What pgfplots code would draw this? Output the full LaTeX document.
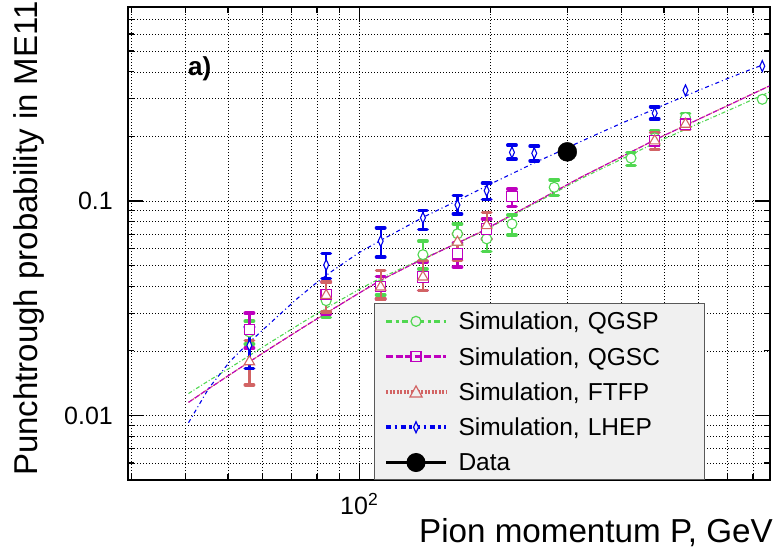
\documentclass[border=0pt]{standalone}
\usepackage{pgfplots}
\pgfplotsset{compat=1.18}
\usepackage{fontspec}
\setmainfont{Liberation Sans}
\definecolor{cqgsp}{RGB}{80,215,80}
\definecolor{cqgsc}{RGB}{190,0,190}
\definecolor{cftfp}{RGB}{210,100,100}
\definecolor{clhep}{RGB}{0,0,235}
\definecolor{legfill}{RGB}{240,240,240}
\pgfplotsset{
  errs/.style={/pgfplots/error bars/.cd, y dir=both, y explicit,
    error bar style={line width=2.2pt, solid},
    error mark options={rotate=90, line width=3.5pt, mark size=4.2pt, line cap=round, solid}, /pgfplots/.cd},
}
\begin{document}
\begin{tikzpicture}
\useasboundingbox (0,0) rectangle (777pt,550pt);
\begin{axis}[
  at={(128pt,70pt)}, anchor=south west,
  scale only axis, width=642pt, height=472.7pt,
  xmode=log, ymode=log,
  xmin=29.5, xmax=875, ymin=0.005, ymax=0.8,
  xtick={100}, xticklabels={10\textsuperscript{2}},
  minor xtick={30,40,50,60,70,80,90,200,300,400,500,600,700,800},
  ytick={0.01,0.1}, yticklabels={0.01,0.1},
  minor ytick={0.005,0.006,0.007,0.008,0.009,0.02,0.03,0.04,0.05,0.06,0.07,0.08,0.09,0.2,0.3,0.4,0.5,0.6,0.7,0.8},
  grid=both,
  major grid style={black, line width=0.7pt, dash pattern=on 1.2pt off 1.8pt},
  minor grid style={black, line width=0.7pt, dash pattern=on 1.2pt off 1.8pt},
  tick align=inside,
  major tick length=15pt, minor tick length=6pt,
  every tick/.style={black, line width=1.2pt},
  axis line style={line width=1.8pt},
  /pgf/number format/assume math mode=true,
  tick label style={font=\fontsize{25}{30}\selectfont},
  xticklabel style={inner sep=0pt, yshift=-13pt},
  yticklabel style={inner sep=0pt, xshift=-15pt},
  xlabel={Pion momentum P, GeV},
  ylabel={Punchtrough probability in ME11},
  xlabel style={font=\fontsize{33.2}{40}\selectfont, at={(axis description cs:1.0047,-0.1326)}, anchor=base east, inner sep=0pt},
  ylabel style={font=\fontsize{33}{40}\selectfont, at={(axis description cs:-0.141,0.0085)}, anchor=base west, inner sep=0pt},
  legend style={
    at={(axis description cs:0.3832,0)}, anchor=south west,
    fill=legfill, draw=black!65, line width=1pt,
    inner sep=0pt, row sep=0pt, column sep=0pt,
    font=\fontsize{24.5}{29}\selectfont,
    nodes={inner xsep=0pt, inner ysep=0pt, text height=26.7pt, text depth=8.6pt, text width=246pt, align=left, anchor=base west},
  },
]
% ---- fit curves ----
\addplot[cqgsp, line width=1.1pt, dash pattern=on 4pt off 2pt on 1pt off 2pt, forget plot] coordinates {
(40.6,0.01265) (45,0.01445) (50,0.01644) (56.3,0.01916) (63,0.02212) (74,0.0271) (84.4,0.03184)
(100,0.03872) (111.7,0.04362) (130.8,0.0506) (160,0.0608) (189.3,0.0711) (250,0.0963)
(320.5,0.1263) (400,0.157) (479.6,0.1875) (600,0.2297) (720,0.2704) (872,0.322)};
\addplot[cftfp, line width=1.2pt, dash pattern=on 1.5pt off 1pt, forget plot] coordinates {
(40.6,0.01151) (45,0.01326) (50,0.01529) (56.3,0.01791) (63,0.02077) (74,0.02557) (84.4,0.03018)
(100,0.03723) (111.7,0.04256) (130.8,0.0501) (160,0.0608) (189.3,0.0715) (250,0.0973)
(320.5,0.1282) (400,0.161) (479.6,0.1941) (600,0.2405) (720,0.2861) (872,0.3438)};
\addplot[cqgsc, line width=1.1pt, dash pattern=on 5pt off 2.5pt, forget plot] coordinates {
(40.6,0.01151) (45,0.01326) (50,0.01529) (56.3,0.01791) (63,0.02077) (74,0.02557) (84.4,0.03018)
(100,0.03723) (111.7,0.04256) (130.8,0.0501) (160,0.0608) (189.3,0.0715) (250,0.0973)
(320.5,0.1282) (400,0.161) (479.6,0.1941) (600,0.2405) (720,0.2861) (872,0.3438)};
\addplot[clhep, line width=1.1pt, dash pattern=on 4pt off 3pt on 1pt off 3pt, forget plot] coordinates {
(40.6,0.00925) (45.2,0.0134) (50.7,0.0180) (55,0.0212) (60.3,0.0252) (66,0.0298) (72,0.0350)
(79.4,0.0412) (86,0.0466) (93,0.0520) (100,0.0575) (112,0.0655) (126,0.0746) (141,0.0845)
(158.5,0.0948) (178,0.1065) (199.5,0.1197) (224,0.134) (251,0.150) (282,0.167) (316,0.186)
(355,0.207) (398,0.2296) (447,0.254) (501,0.281) (562,0.310) (631,0.342) (708,0.376)
(794,0.412) (840,0.430)};
% ---- simulation points ----
\addplot[cqgsp, only marks, mark=*, mark size=5pt, mark options={fill=white, line width=1.1pt, solid},
  legend image code/.code={
    \draw[cqgsp, line width=3.5pt, dash pattern=on 6pt off 3.5pt on 3pt off 3.5pt] (0pt,8.4pt) -- (60pt,8.4pt);
    \draw[cqgsp, line width=1.2pt, fill=legfill] (30pt,8.4pt) circle (5pt);
    \path (-11pt,0pt) (72pt,0pt);}, errs]
coordinates {
(56,0.0245) += (0,0.0030) -= (0,0.0030)
(84,0.0343) += (0,0.0040) -= (0,0.0057)
(112,0.0405) += (0,0.0040) -= (0,0.0040)
(140,0.0562) += (0,0.0088) -= (0,0.0080)
(168,0.0703) += (0,0.0079) -= (0,0.0073)
(196,0.0666) += (0,0.0090) -= (0,0.0086)
(224,0.0782) += (0,0.0078) -= (0,0.0087)
(280,0.1158) += (0,0.0098) -= (0,0.0098)
(420,0.1585) += (0,0.0098) -= (0,0.0125)
(476,0.1970) += (0,0.0160) -= (0,0.0160)
(560,0.2450) += (0,0.0110) -= (0,0.0110)
};
\addlegendentry{Simulation, QGSP}
\addplot[cqgsc, only marks, mark=square*, mark size=5.2pt, mark options={fill=white, line width=1.1pt, solid},
  legend image code/.code={
    \draw[cqgsc, line width=3.5pt, dash pattern=on 7pt off 2.5pt] (0pt,8.4pt) -- (60pt,8.4pt);
    \draw[cqgsc, line width=1.2pt] (25pt,3.4pt) rectangle (35pt,13.4pt);
    \path (-11pt,0pt) (72pt,0pt);}, errs]
coordinates {
(56,0.0251) += (0,0.0049) -= (0,0.0045)
(84,0.0367) += (0,0.0052) -= (0,0.0069)
(112,0.0400) += (0,0.0045) -= (0,0.0050)
(140,0.0442) += (0,0.0078) -= (0,0.0059)
(168,0.0567) += (0,0.0073) -= (0,0.0075)
(196,0.0741) += (0,0.0084) -= (0,0.0075)
(224,0.1047) += (0,0.0090) -= (0,0.0102)
(476,0.1908) += (0,0.0180) -= (0,0.0170)
(560,0.2280) += (0,0.0120) -= (0,0.0120)
};
\addlegendentry{Simulation, QGSC}
\addplot[cftfp, only marks, mark=triangle*, mark size=6pt, mark options={fill=white, line width=1.1pt, solid},
  legend image code/.code={
    \draw[cftfp, line width=3.5pt, dash pattern=on 2pt off 1.5pt] (0pt,8.4pt) -- (60pt,8.4pt);
    \draw[cftfp, line width=1.2pt, fill=legfill] (24pt,3.4pt) -- (36pt,3.4pt) -- (30pt,14.4pt) -- cycle;
    \path (-11pt,0pt) (72pt,0pt);}, errs]
coordinates {
(56,0.0178) += (0,0.0046) -= (0,0.0039)
(84,0.0363) += (0,0.0056) -= (0,0.0059)
(112,0.0397) += (0,0.0077) -= (0,0.0047)
(140,0.0442) += (0,0.0086) -= (0,0.0059)
(168,0.0643) += (0,0.0060) -= (0,0.0115)
(196,0.0768) += (0,0.0118) -= (0,0.0102)
(476,0.1908) += (0,0.0180) -= (0,0.0170)
(560,0.2280) += (0,0.0120) -= (0,0.0120)
};
\addlegendentry{Simulation, FTFP}
\addplot[clhep, only marks, mark=diamond*, mark size=5.5pt, mark options={xscale=0.6, fill=white, line width=1.1pt, solid},
  legend image code/.code={
    \draw[clhep, line width=3.5pt, dash pattern=on 5pt off 3.5pt on 2.5pt off 3.5pt] (0pt,8.4pt) -- (60pt,8.4pt);
    \draw[clhep, line width=1.2pt, fill=legfill] (30pt,2.9pt) -- (32.5pt,8.4pt) -- (30pt,13.9pt) -- (27.5pt,8.4pt) -- cycle;
    \path (-11pt,0pt) (72pt,0pt);}, errs]
coordinates {
(56,0.0212) += (0,0.0047) -= (0,0.0046)
(84,0.0503) += (0,0.0066) -= (0,0.0069)
(112,0.0650) += (0,0.0100) -= (0,0.0103)
(140,0.0835) += (0,0.0069) -= (0,0.0097)
(168,0.0958) += (0,0.0100) -= (0,0.0087)
(196,0.1117) += (0,0.0093) -= (0,0.0103)
(224,0.1685) += (0,0.0135) -= (0,0.0119)
(252,0.1670) += (0,0.0130) -= (0,0.0130)
(476,0.2566) += (0,0.0184) -= (0,0.0159)
};
\addlegendentry{Simulation, LHEP}
\addplot[black, only marks, mark=*, mark size=9.5pt,
  legend image code/.code={
    \draw[black, line width=3.3pt] (0pt,8.4pt) -- (60pt,8.4pt);
    \fill[black] (30pt,8.4pt) circle (9pt);
    \path (-11pt,0pt) (72pt,0pt);}]
coordinates {(300,0.1695)};
\addlegendentry{Data}
% points without visible error bars
\addplot[cqgsp, only marks, mark=*, mark size=5pt, mark options={fill=white, line width=1.1pt, solid}, forget plot]
coordinates {(840,0.298)};
\addplot[clhep, only marks, mark=diamond*, mark size=5.5pt, mark options={xscale=0.6, fill=white, line width=1.1pt, solid}, forget plot]
coordinates {(560,0.328) (840,0.4256)};
\node[anchor=base west, inner sep=0pt, font=\bfseries\fontsize{26}{30}\selectfont] at (axis description cs:0.0935,0.8547) {a)};
\end{axis}
\end{tikzpicture}
\end{document}
